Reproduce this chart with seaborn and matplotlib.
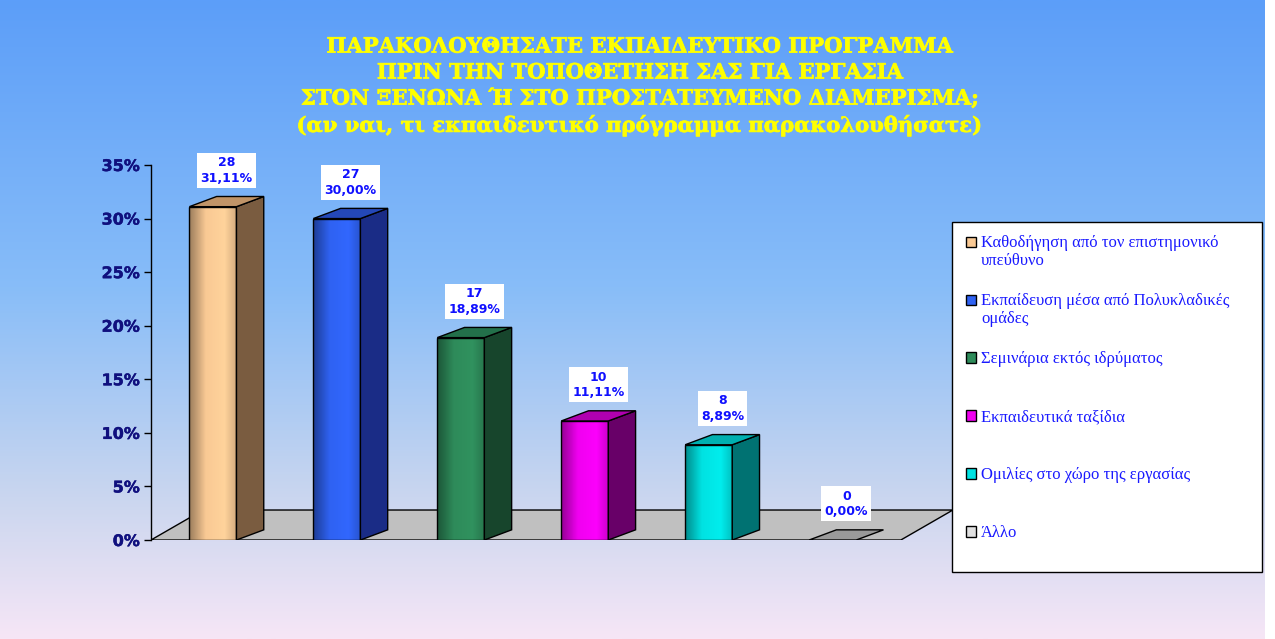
import numpy as np
import pandas as pd
import matplotlib
matplotlib.use("Agg")
import matplotlib.pyplot as plt
import matplotlib.patheffects as pe
import seaborn as sns
from matplotlib.patches import Polygon, Patch, Rectangle
from matplotlib.legend_handler import HandlerPatch
from matplotlib.colors import to_rgb, LinearSegmentedColormap

# ---------------- data ----------------
categories = [
    "Καθοδήγηση από τον επιστημονικό\nυπεύθυνο",
    "Εκπαίδευση μέσα από Πολυκλαδικές\nομάδες",
    "Σεμινάρια εκτός ιδρύματος",
    "Εκπαιδευτικά ταξίδια",
    "Ομιλίες στο χώρο της εργασίας",
    "Άλλο",
]
counts = [28, 27, 17, 10, 8, 0]
percents = [31.11, 30.00, 18.89, 11.11, 8.89, 0.00]
yticks = [0, 5, 10, 15, 20, 25, 30, 35]
ytick_labels = ["0%", "5%", "10%", "15%", "20%", "25%", "30%", "35%"]
title_lines = [
    "ΠΑΡΑΚΟΛΟΥΘΗΣΑΤΕ ΕΚΠΑΙΔΕΥΤΙΚΟ ΠΡΟΓΡΑΜΜΑ",
    "ΠΡΙΝ ΤΗΝ ΤΟΠΟΘΕΤΗΣΗ ΣΑΣ ΓΙΑ ΕΡΓΑΣΙΑ",
    "ΣΤΟΝ ΞΕΝΩΝΑ Ή ΣΤΟ ΠΡΟΣΤΑΤΕΥΜΕΝΟ ΔΙΑΜΕΡΙΣΜΑ;",
    "(αν ναι, τι εκπαιδευτικό πρόγραμμα παρακολουθήσατε)",
]
front_colors = ["#f9c994", "#2f62f2", "#2e8b5a", "#f000f0", "#00e2e2", "#d0d0d0"]
side_colors = ["#7a5c40", "#1a2c86", "#17452c", "#680068", "#007272", "#808080"]
top_colors = ["#c09468", "#2448b8", "#23704a", "#b000b0", "#00b0b0", "#a8a8a8"]

# ---------------- figure ----------------
sns.set_style("white")
plt.rcParams["font.family"] = ["DejaVu Sans"]
fig = plt.figure(figsize=(12.75, 6.39), dpi=100)

# background gradient
bg = fig.add_axes([0, 0, 0.992, 1], zorder=-5)
bg_cmap = LinearSegmentedColormap.from_list(
    "bg",
    [(0.0, to_rgb("#5c9ef9")), (0.45, to_rgb("#88bdf8")),
     (0.78, to_rgb("#cad6ef")), (1.0, to_rgb("#f6e6f6"))])
bg.imshow(np.linspace(0, 1, 256).reshape(-1, 1), aspect="auto", cmap=bg_cmap,
          extent=(0, 1, 0, 1), origin="upper")
bg.set_axis_off()

ax = fig.add_axes([0.1184, 0.1549, 0.6416, 0.5869])
ax.patch.set_alpha(0)

df = pd.DataFrame({"cat": categories, "pct": percents})
sns.barplot(data=df, x="cat", y="pct", hue="cat", order=categories,
            hue_order=categories, palette=front_colors, width=0.38,
            saturation=1, legend=False, edgecolor="black", linewidth=1.0,
            ax=ax, zorder=3)

dx, dy = 0.22, 0.95          # bar depth offsets
fdx, fdy = 0.42, 2.8         # floor depth offsets

ax.set_xlim(-0.5, 6.1)
ax.set_ylim(0, 35)

# floor
floor = Polygon([(-0.5, 0), (5.55, 0), (5.55 + fdx, fdy), (-0.5 + fdx, fdy)],
                closed=True, facecolor="#c0c0c0", edgecolor="black",
                linewidth=1.0, zorder=1)
ax.add_patch(floor)

for i, cont in enumerate(ax.containers):
    p = cont[0]
    x0, w, h = p.get_x(), p.get_width(), p.get_height()
    base = np.array(to_rgb(front_colors[i]))
    cm = LinearSegmentedColormap.from_list(
        f"g{i}", [(0, base * 0.62), (0.35, base), (0.75, np.minimum(base * 1.05, 1)),
                  (1, base * 0.85)])
    if h > 0:
        im = ax.imshow(np.linspace(0, 1, 64).reshape(1, -1), cmap=cm,
                       extent=(x0, x0 + w, 0, h), aspect="auto", zorder=2.9)
        im.set_clip_path(p)
        p.set_facecolor("none")
        side = Polygon([(x0 + w, 0), (x0 + w + dx, dy), (x0 + w + dx, h + dy), (x0 + w, h)],
                       closed=True, facecolor=side_colors[i], edgecolor="black",
                       linewidth=1.0, zorder=3)
        ax.add_patch(side)
        topc = top_colors[i]
    else:
        topc = "#9a9a9a"
    top = Polygon([(x0, h), (x0 + w, h), (x0 + w + dx, h + dy), (x0 + dx, h + dy)],
                  closed=True, facecolor=topc, edgecolor="black",
                  linewidth=1.0, zorder=3)
    ax.add_patch(top)
    pct_txt = f"{percents[i]:.2f}".replace(".", ",") + "%"
    ax.text(x0 + (w + dx) / 2, h + dy + 1.1, f"{counts[i]}\n{pct_txt}",
            ha="center", va="bottom", color="#1010ff", fontsize=9,
            fontweight="bold", linespacing=1.25, zorder=5,
            bbox=dict(boxstyle="square,pad=0.25", facecolor="white", edgecolor="none"))

ax.set_xlim(-0.5, 6.1)
ax.set_ylim(0, 35)
ax.set_xticks([])
ax.set_xlabel("")
ax.set_ylabel("")
ax.set_yticks(yticks)
ax.set_yticklabels(ytick_labels)
ax.tick_params(axis="y", direction="out", length=5, width=1, color="black",
               labelcolor="#10107e", labelsize=11.5, pad=3, left=True)
for lab in ax.get_yticklabels():
    lab.set_fontweight("bold")
    lab.set_path_effects([pe.withStroke(linewidth=0.3, foreground="#10107e")])
for s in ["top", "right", "bottom"]:
    ax.spines[s].set_visible(False)
ax.spines["left"].set_color("black")
ax.spines["left"].set_linewidth(1.0)

# title
fig.text(0.502, 0.865, "\n".join(title_lines), ha="center", va="center",
         color="#ffff00", fontsize=15.2, fontweight="bold", family="DejaVu Serif",
         linespacing=1.37,
         path_effects=[pe.withStroke(linewidth=0.5, foreground="#ffff00")])

# legend
def top_rect(legend, orig_handle, xdescent, ydescent, width, height, fontsize):
    return Rectangle((-xdescent, -ydescent + 0.62 * fontsize), width, height)

handles = [Patch(facecolor=c, edgecolor="black", linewidth=1.0) for c in front_colors]
handles[-1] = Patch(facecolor="#e0e0e0", edgecolor="black", linewidth=1.0)
leg_labels = [c if "\n" in c else c + "\n" for c in categories]
leg = fig.legend(handles, leg_labels, loc="upper left",
                 bbox_to_anchor=(0.747, 0.108, 0.243, 0.545), mode="expand",
                 frameon=True, fancybox=False, edgecolor="black", facecolor="white",
                 framealpha=1, prop={"family": "Liberation Serif", "size": 12},
                 labelcolor="#1a1aff", labelspacing=1.41, handlelength=0.62,
                 handleheight=0.62, handletextpad=0.3, borderpad=0.8,
                 borderaxespad=0,
                 handler_map={Patch: HandlerPatch(patch_func=top_rect)})
leg.get_frame().set_linewidth(1.0)

fig.savefig("out.png", dpi=100)
